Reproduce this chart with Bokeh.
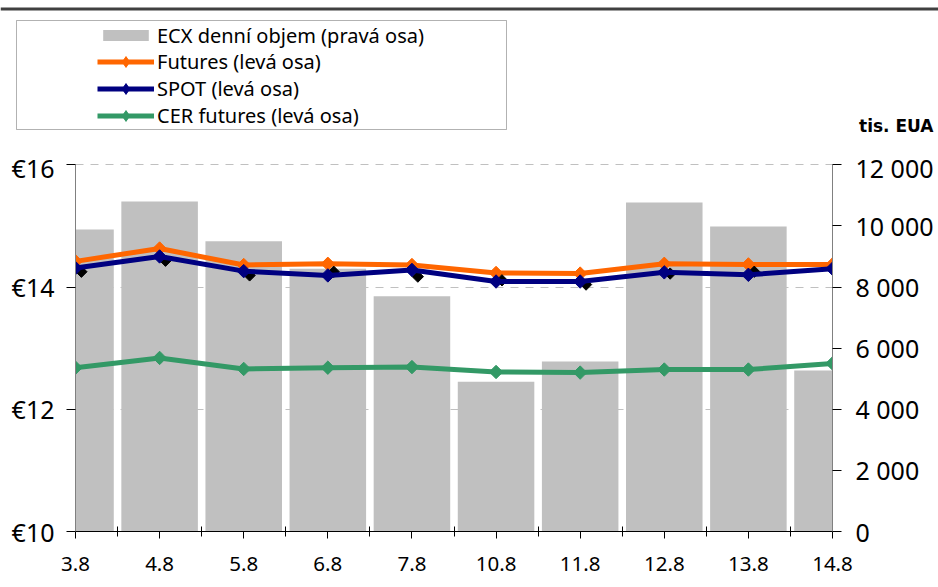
import math
from bokeh.plotting import figure
from bokeh.models import (Range1d, LinearAxis, FixedTicker, PrintfTickFormatter, Legend,
                          LegendItem, BoxAnnotation, Label, Span)
from bokeh.layouts import column
from bokeh.transform import dodge
from bokeh.embed import file_html
from bokeh.resources import INLINE

# ---- data ----
dates = ["3.8", "4.8", "5.8", "6.8", "7.8", "10.8", "11.8", "12.8", "13.8", "14.8"]
volume = [9880, 10800, 9500, 8600, 7700, 4900, 5560, 10770, 9980, 5270]
futures = [14.42, 14.63, 14.36, 14.38, 14.36, 14.23, 14.22, 14.38, 14.37, 14.37]
spot = [14.31, 14.50, 14.26, 14.19, 14.28, 14.09, 14.09, 14.24, 14.20, 14.30]
cer = [12.68, 12.84, 12.66, 12.68, 12.69, 12.61, 12.60, 12.65, 12.65, 12.75]
spot_shadow = [14.25, 14.43, 14.19, 14.25, 14.17, 14.11, 14.04, 14.22, 14.25, 14.25]
left_ticks = [10, 12, 14, 16]
right_ticks = [0, 2000, 4000, 6000, 8000, 10000, 12000]
legend_labels = ["ECX denní objem (pravá osa)", "Futures (levá osa)",
                 "SPOT (levá osa)", "CER futures (levá osa)"]
unit_label = "tis. EUA"

COL_BAR = "#C0C0C0"
COL_FUT = "#FF6600"
COL_SPOT = "#000080"
COL_CER = "#339966"

idx = list(range(len(dates)))
W = 938
TOP_H = 150
MAIN_H = 587 - TOP_H

# ================= main chart =================
left_top = 16.152
vol_top = (left_top - left_ticks[0]) * (right_ticks[-1] / (left_ticks[-1] - left_ticks[0]))

p = figure(width=W, height=MAIN_H, x_range=Range1d(0, len(dates) - 1),
           y_range=Range1d(left_ticks[0], left_top),
           output_backend="svg", toolbar_location=None,
           min_border_left=75, min_border_right=106, min_border_top=5, min_border_bottom=56)
p.outline_line_color = None
p.frame_align = False
p.extra_y_ranges = {"vol": Range1d(0, vol_top)}

xa = p.xaxis[0]
xa.ticker = FixedTicker(ticks=idx, minor_ticks=[i + 0.5 for i in idx[:-1]])
xa.major_label_overrides = {i: d for i, d in zip(idx, dates)}
xa.axis_line_color = "black"
xa.major_tick_line_color = "black"
xa.minor_tick_line_color = "black"
xa.major_tick_in = 0
xa.major_tick_out = 7
xa.minor_tick_in = 5
xa.minor_tick_out = 5
xa.major_label_standoff = 18
xa.major_label_text_font = "Noto Sans"
xa.major_label_text_font_size = "20.5px"
xa.major_label_text_color = "black"

ya = p.yaxis[0]
ya.bounds = (left_ticks[0], left_ticks[-1])
ya.ticker = FixedTicker(ticks=left_ticks)
ya.formatter = PrintfTickFormatter(format="€%d")
ya.axis_line_color = "#808080"
ya.major_tick_line_color = "black"
ya.minor_tick_line_color = None
ya.major_tick_in = 0
ya.major_tick_out = 9
ya.major_label_standoff = 12
ya.major_label_text_font = "Noto Sans"
ya.major_label_text_font_size = "25px"
ya.major_label_text_color = "black"

ra = LinearAxis(y_range_name="vol", bounds=(right_ticks[0], right_ticks[-1]),
                ticker=FixedTicker(ticks=right_ticks))
ra.major_label_overrides = {v: f"{v:,}".replace(",", " ") for v in right_ticks}
ra.axis_line_color = "#808080"
ra.major_tick_line_color = "black"
ra.minor_tick_line_color = None
ra.major_tick_in = 0
ra.major_tick_out = 9
ra.major_label_standoff = 14
ra.major_label_text_font = "Noto Sans"
ra.major_label_text_font_size = "25px"
ra.major_label_text_color = "black"
p.add_layout(ra, "right")

p.xgrid.visible = False
p.ygrid.ticker = FixedTicker(ticks=left_ticks)
p.ygrid.grid_line_color = "#C0C0C0"
p.ygrid.grid_line_dash = "8 7"
p.ygrid.grid_line_width = 1

p.vbar(x=idx, top=volume, width=0.91, fill_color=COL_BAR, line_color=None, y_range_name="vol")

def series(fig, vals, color, visible=True, marker="square", angle=math.pi / 4):
    ln = fig.line(idx, vals, line_color=color, line_width=5, visible=visible)
    sc = fig.scatter(idx, vals, marker=marker, angle=angle, size=9.5,
                     fill_color=color, line_color=color, visible=visible)
    return ln, sc

series(p, cer, COL_CER)
series(p, futures, COL_FUT)
p.scatter(x=dodge("x", 0.07), y="y", source=dict(x=idx, y=spot_shadow),
          marker="square", angle=math.pi / 4, size=8, fill_color="black", line_color="black")
series(p, spot, COL_SPOT)

# ================= header: top rule, legend, unit label =================
t = figure(width=W, height=TOP_H, x_range=Range1d(0, W), y_range=Range1d(TOP_H, 0),
           x_axis_type=None, y_axis_type=None, output_backend="svg", toolbar_location=None,
           min_border=0, min_border_left=0, min_border_right=0, min_border_top=0,
           min_border_bottom=0)
t.frame_align = False
t.outline_line_color = None
t.xgrid.visible = False
t.ygrid.visible = False

t.add_layout(Span(location=8.5, dimension="width", line_color="#404040", line_width=3))

# legend-only renderers (hidden), same data as the chart
lb = t.vbar(x=idx, top=volume, width=0.91, fill_color=COL_BAR, line_color=None, visible=False)
fl, fs = series(t, futures, COL_FUT, visible=False, marker="diamond", angle=0)
sl, ss = series(t, spot, COL_SPOT, visible=False, marker="diamond", angle=0)
cl, cs = series(t, cer, COL_CER, visible=False, marker="diamond", angle=0)

def style_legend(lg, gh):
    lg.border_line_color = None
    lg.background_fill_alpha = 0
    lg.inactive_fill_alpha = 0
    lg.padding = 0
    lg.margin = 0
    lg.spacing = 0
    lg.glyph_width = 57
    lg.glyph_height = gh
    lg.label_height = 27
    lg.label_standoff = 3
    lg.label_text_font = "Noto Sans"
    lg.label_text_font_size = "20px"
    lg.label_text_color = "black"

legA = Legend(items=[LegendItem(label=legend_labels[0], renderers=[lb])],
              location=(97, TOP_H - 48.5))
style_legend(legA, 14)
legB = Legend(items=[LegendItem(label=legend_labels[1], renderers=[fl, fs]),
                     LegendItem(label=legend_labels[2], renderers=[sl, ss]),
                     LegendItem(label=legend_labels[3], renderers=[cl, cs])],
              location=(97, TOP_H - 129.2))
style_legend(legB, 27)
t.add_layout(legA)
t.add_layout(legB)

t.add_layout(BoxAnnotation(left=16, right=506, top=20, bottom=129,
                           fill_color=None, fill_alpha=0, line_color="black", line_width=1))

t.add_layout(Label(x=933, y=125, text=unit_label, text_font="DejaVu Sans",
                   text_font_style="bold", text_font_size="17px",
                   text_baseline="alphabetic", text_align="right", text_color="black"))

layout = column(t, p, spacing=0)
open("out.html", "w").write(file_html(layout, INLINE))
